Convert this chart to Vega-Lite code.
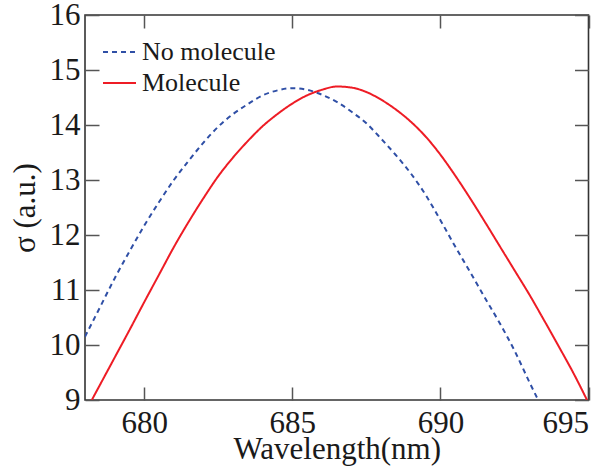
{
  "$schema": "https://vega.github.io/schema/vega-lite/v6.json",
  "width": 503.5,
  "height": 385,
  "autosize": {"type": "none"},
  "padding": {"left": 85, "top": 15, "right": 26.5, "bottom": 68},
  "background": "white",
  "config": {
    "view": {"stroke": "#333333", "strokeWidth": 1.6},
    "font": "Liberation Serif",
    "axis": {
      "grid": false,
      "domain": false,
      "tickColor": "#555555",
      "tickWidth": 1.5,
      "labelFont": "Liberation Serif",
      "labelFontSize": 31,
      "labelColor": "#1a1a1a",
      "titleFont": "Liberation Serif",
      "titleFontSize": 31,
      "titleFontWeight": "normal",
      "titleColor": "#1a1a1a"
    }
  },
  "data": {
    "values": [
      {"wl": 678.0, "sigma": 10.15, "series": "No molecule"},
      {"wl": 678.5, "sigma": 10.68, "series": "No molecule"},
      {"wl": 679.0, "sigma": 11.21, "series": "No molecule"},
      {"wl": 679.5, "sigma": 11.70, "series": "No molecule"},
      {"wl": 680.0, "sigma": 12.17, "series": "No molecule"},
      {"wl": 680.5, "sigma": 12.60, "series": "No molecule"},
      {"wl": 681.0, "sigma": 13.00, "series": "No molecule"},
      {"wl": 681.5, "sigma": 13.35, "series": "No molecule"},
      {"wl": 682.0, "sigma": 13.68, "series": "No molecule"},
      {"wl": 682.5, "sigma": 13.97, "series": "No molecule"},
      {"wl": 683.0, "sigma": 14.20, "series": "No molecule"},
      {"wl": 683.5, "sigma": 14.38, "series": "No molecule"},
      {"wl": 684.0, "sigma": 14.54, "series": "No molecule"},
      {"wl": 684.5, "sigma": 14.63, "series": "No molecule"},
      {"wl": 685.0, "sigma": 14.67, "series": "No molecule"},
      {"wl": 685.5, "sigma": 14.64, "series": "No molecule"},
      {"wl": 686.0, "sigma": 14.55, "series": "No molecule"},
      {"wl": 686.5, "sigma": 14.42, "series": "No molecule"},
      {"wl": 687.0, "sigma": 14.24, "series": "No molecule"},
      {"wl": 687.5, "sigma": 14.03, "series": "No molecule"},
      {"wl": 688.0, "sigma": 13.75, "series": "No molecule"},
      {"wl": 688.5, "sigma": 13.45, "series": "No molecule"},
      {"wl": 689.0, "sigma": 13.12, "series": "No molecule"},
      {"wl": 689.5, "sigma": 12.73, "series": "No molecule"},
      {"wl": 690.0, "sigma": 12.27, "series": "No molecule"},
      {"wl": 690.5, "sigma": 11.79, "series": "No molecule"},
      {"wl": 691.0, "sigma": 11.33, "series": "No molecule"},
      {"wl": 691.5, "sigma": 10.86, "series": "No molecule"},
      {"wl": 692.0, "sigma": 10.40, "series": "No molecule"},
      {"wl": 692.5, "sigma": 9.90, "series": "No molecule"},
      {"wl": 693.0, "sigma": 9.33, "series": "No molecule"},
      {"wl": 693.3, "sigma": 9.00, "series": "No molecule"},
      {"wl": 678.23, "sigma": 9.00, "series": "Molecule"},
      {"wl": 678.5, "sigma": 9.27, "series": "Molecule"},
      {"wl": 679.0, "sigma": 9.77, "series": "Molecule"},
      {"wl": 679.5, "sigma": 10.27, "series": "Molecule"},
      {"wl": 680.0, "sigma": 10.78, "series": "Molecule"},
      {"wl": 680.5, "sigma": 11.28, "series": "Molecule"},
      {"wl": 681.0, "sigma": 11.78, "series": "Molecule"},
      {"wl": 681.5, "sigma": 12.24, "series": "Molecule"},
      {"wl": 682.0, "sigma": 12.67, "series": "Molecule"},
      {"wl": 682.5, "sigma": 13.07, "series": "Molecule"},
      {"wl": 683.0, "sigma": 13.41, "series": "Molecule"},
      {"wl": 683.5, "sigma": 13.71, "series": "Molecule"},
      {"wl": 684.0, "sigma": 13.98, "series": "Molecule"},
      {"wl": 684.5, "sigma": 14.20, "series": "Molecule"},
      {"wl": 685.0, "sigma": 14.39, "series": "Molecule"},
      {"wl": 685.5, "sigma": 14.54, "series": "Molecule"},
      {"wl": 686.0, "sigma": 14.64, "series": "Molecule"},
      {"wl": 686.5, "sigma": 14.70, "series": "Molecule"},
      {"wl": 687.0, "sigma": 14.68, "series": "Molecule"},
      {"wl": 687.5, "sigma": 14.60, "series": "Molecule"},
      {"wl": 688.0, "sigma": 14.46, "series": "Molecule"},
      {"wl": 688.5, "sigma": 14.28, "series": "Molecule"},
      {"wl": 689.0, "sigma": 14.06, "series": "Molecule"},
      {"wl": 689.5, "sigma": 13.79, "series": "Molecule"},
      {"wl": 690.0, "sigma": 13.46, "series": "Molecule"},
      {"wl": 690.5, "sigma": 13.08, "series": "Molecule"},
      {"wl": 691.0, "sigma": 12.67, "series": "Molecule"},
      {"wl": 691.5, "sigma": 12.24, "series": "Molecule"},
      {"wl": 692.0, "sigma": 11.80, "series": "Molecule"},
      {"wl": 692.5, "sigma": 11.36, "series": "Molecule"},
      {"wl": 693.0, "sigma": 10.92, "series": "Molecule"},
      {"wl": 693.5, "sigma": 10.45, "series": "Molecule"},
      {"wl": 694.0, "sigma": 9.97, "series": "Molecule"},
      {"wl": 694.5, "sigma": 9.48, "series": "Molecule"},
      {"wl": 694.95, "sigma": 9.00, "series": "Molecule"}
    ]
  },
  "layer": [
    {
      "mark": {"type": "line", "strokeWidth": 2, "clip": true, "interpolate": "monotone"},
      "encoding": {
        "x": {
          "field": "wl", "type": "quantitative",
          "scale": {"domain": [678, 695], "nice": false, "zero": false},
          "axis": {"orient": "bottom", "values": [680, 685, 690, 695], "tickSize": -13, "labelPadding": 21, "title": "Wavelength(nm)", "titlePadding": -4}
        },
        "y": {
          "field": "sigma", "type": "quantitative",
          "scale": {"domain": [9, 16], "nice": false, "zero": false},
          "axis": {"orient": "left", "values": [9, 10, 11, 12, 13, 14, 15, 16], "tickSize": -14, "labelPadding": 19, "title": "σ (a.u.)", "titlePadding": 8}
        },
        "color": {
          "field": "series", "type": "nominal",
          "scale": {"domain": ["No molecule", "Molecule"], "range": ["#2f4fa6", "#ee1c25"]},
          "legend": {
            "title": null, "orient": "none", "legendX": 17, "legendY": 19.5,
            "symbolType": "stroke", "symbolSize": 1089, "symbolStrokeWidth": 2,
            "labelFont": "Liberation Serif", "labelFontSize": 26, "labelColor": "#1a1a1a",
            "labelOffset": 5, "rowPadding": -4, "padding": 0
          }
        },
        "strokeDash": {
          "field": "series", "type": "nominal",
          "scale": {"domain": ["No molecule", "Molecule"], "range": [[5, 4], [1, 0]]},
          "legend": null
        }
      }
    },
    {
      "mark": {"type": "line", "opacity": 0},
      "encoding": {
        "x": {
          "field": "wl", "type": "quantitative",
          "axis": {"orient": "top", "values": [680, 685, 690, 695], "tickSize": -13, "labels": false, "title": null}
        },
        "y": {
          "field": "sigma", "type": "quantitative",
          "axis": {"orient": "right", "values": [9, 10, 11, 12, 13, 14, 15, 16], "tickSize": -14, "labels": false, "title": null}
        },
        "detail": {"field": "series", "type": "nominal"}
      }
    }
  ],
  "resolve": {"axis": {"x": "independent", "y": "independent"}}
}
